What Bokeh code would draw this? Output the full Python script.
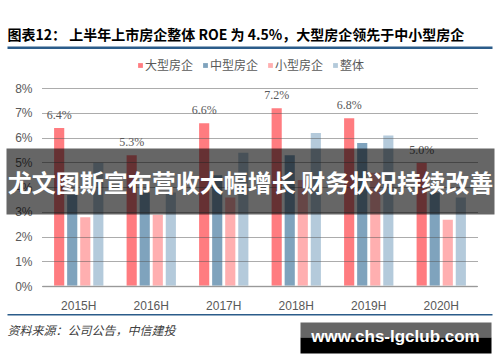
from bokeh.plotting import figure
from bokeh.models import (Range1d, FixedTicker, Legend, LegendItem, LinearAxis,
                          LabelSet, ColumnDataSource, BoxAnnotation, Label)
from bokeh.transform import dodge
from bokeh.embed import file_html
from bokeh.resources import INLINE

periods = ["2015H", "2016H", "2017H", "2018H", "2019H", "2020H"]
large = [6.4, 5.3, 6.6, 7.2, 6.8, 5.0]
mid = [3.7, 3.8, 4.5, 5.3, 5.8, 3.8]
small = [2.8, 2.9, 3.6, 4.3, 4.6, 2.7]
whole = [5.0, 3.8, 5.4, 6.2, 6.1, 3.6]
series_names = ["大型房企", "中型房企", "小型房企", "整体"]
large_labels = ["6.4%", "5.3%", "6.6%", "7.2%", "6.8%", "5.0%"]
y_ticks = [0, 1, 2, 3, 4, 5, 6, 7, 8]
y_tick_labels = ["0%", "1%", "2%", "3%", "4%", "5%", "6%", "7%", "8%"]

title_text = "图表12：  上半年上市房企整体 ROE 为 4.5%，大型房企领先于中小型房企"
source_text = "资料来源：公司公告，中信建投"
banner_text = "尤文图斯宣布营收大幅增长 财务状况持续改善"
watermark_text = "www.chs-lgclub.com"

colors = ["#FF7C80", "#7FA3BD", "#FFAFB0", "#B4CADB"]
offsets = [-0.27, -0.09, 0.09, 0.27]

W, H = 500, 362
# plot area in page pixels
PL, PR, P0, PX_PER_PCT = 42, 477, 286, 24.75
n = len(periods)
px_per_cat = (PR - PL) / n
x_start = -0.5 - PL / px_per_cat
x_end = n - 0.5 + (W - PR) / px_per_cat
y_start = -(H - P0) / PX_PER_PCT
y_end = P0 / PX_PER_PCT

idx = list(range(n))
src = ColumnDataSource(dict(idx=idx, period=periods, large=large, mid=mid, small=small,
                            whole=whole, lab=large_labels))

p = figure(width=W, height=H, x_range=Range1d(x_start, x_end), y_range=Range1d(y_start, y_end),
           x_axis_location=None, y_axis_location=None,
           output_backend="svg", toolbar_location=None,
           min_border=0, min_border_left=0, min_border_right=0,
           min_border_top=0, min_border_bottom=0)
p.outline_line_color = None
p.background_fill_color = "white"
p.border_fill_color = "white"
p.xgrid.visible = False
p.ygrid.visible = False

# y axis drawn at left edge of the plot area; long inward ticks act as dotted gridlines
yaxis = LinearAxis(fixed_location=-0.5, bounds=(y_ticks[0], y_ticks[-1]),
                   ticker=FixedTicker(ticks=y_ticks),
                   major_label_overrides={t: l for t, l in zip(y_ticks, y_tick_labels)})
yaxis.axis_line_color = None
yaxis.major_tick_in = int(PR - PL)
yaxis.major_tick_out = 0
yaxis.major_tick_line_color = "#595959"
yaxis.major_tick_line_dash = "1 1"
yaxis.major_tick_line_width = 1
yaxis.minor_tick_line_color = None
yaxis.major_label_standoff = 10
yaxis.major_label_text_font = "Liberation Sans"
yaxis.major_label_text_font_size = "12px"
yaxis.major_label_text_color = "#595959"
p.add_layout(yaxis, "left")

xaxis = LinearAxis(fixed_location=0, bounds=(-0.5, n - 0.5),
                   ticker=FixedTicker(ticks=idx),
                   major_label_overrides={i: s for i, s in zip(idx, periods)})
xaxis.axis_line_color = "#D9D9D9"
xaxis.axis_line_width = 2
xaxis.major_tick_line_color = None
xaxis.minor_tick_line_color = None
xaxis.major_label_standoff = 6
xaxis.major_label_text_font = "Liberation Sans"
xaxis.major_label_text_font_size = "12px"
xaxis.major_label_text_color = "#595959"
p.add_layout(xaxis, "below")

renderers = []
for key, col, off in zip(["large", "mid", "small", "whole"], colors, offsets):
    r = p.vbar(x=dodge("idx", off), top=key, width=0.14,
               source=src, fill_color=col, line_color=None)
    renderers.append(r)

labels = LabelSet(x=dodge("idx", offsets[0]), y="large", text="lab",
                  source=src, y_offset=13, text_align="center", text_baseline="middle",
                  text_font="DejaVu Sans Mono", text_font_size="12px", text_color="#595959")
p.add_layout(labels)

legend = Legend(items=[LegendItem(label=s, renderers=[r]) for s, r in zip(series_names, renderers)],
                orientation="horizontal", location=(137, H - 73),
                border_line_color=None, background_fill_alpha=0,
                glyph_width=6, glyph_height=6, label_standoff=2, spacing=9,
                padding=0, margin=0,
                label_text_font="Noto Sans CJK SC", label_text_font_size="12px",
                label_text_color="#595959")
p.add_layout(legend)


def box(l, t, r, b, color, alpha=1.0):
    p.add_layout(BoxAnnotation(left=l, right=r, top=H - t, bottom=H - b,
                               left_units="screen", right_units="screen",
                               top_units="screen", bottom_units="screen",
                               fill_color=color, fill_alpha=alpha, line_color=None,
                               level="overlay"))


def text(x, y, t, size, color, font="Noto Sans CJK SC", style="normal", align="left"):
    p.add_layout(Label(x=x, y=H - y, x_units="screen", y_units="screen", text=t,
                       text_font=font, text_font_size=size, text_color=color,
                       text_font_style=style, text_align=align, text_baseline="middle",
                       level="overlay"))


# title and rules
text(7, 33, title_text, "14px", "#000000", style="bold")
box(7, 46, 492, 48.5, "#2B5C8A")
box(7, 313.5, 492, 315, "#2B5C8A")
text(7, 329, source_text, "12px", "#404040", style="italic")

# banner overlay
box(6, 148, 494, 214, "#000000", 0.6)
text(250, 181, banner_text, "24px", "#FFFFFF", style="bold", align="center")

# watermark
box(300, 322, 491, 337, "#666666")
box(300, 337, 491, 353, "#000000")
text(395, 336, watermark_text, "17px", "#FFFFFF", font="Liberation Sans", style="bold", align="center")

open("out.html", "w").write(file_html(p, INLINE))
